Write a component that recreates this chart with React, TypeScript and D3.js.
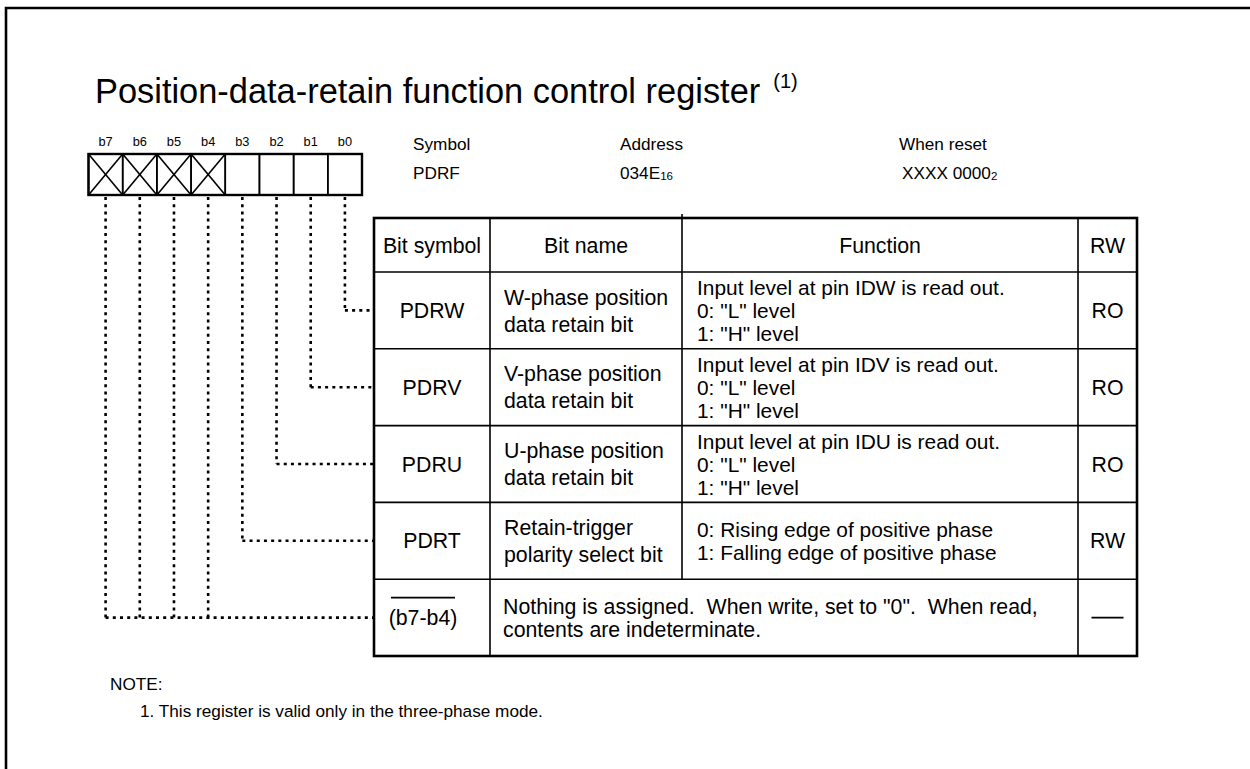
import React from 'react';
import * as d3 from 'd3';

const titleText = 'Position-data-retain function control register';
const titleNote = '(1)';
const bitLabels = ['b7', 'b6', 'b5', 'b4', 'b3', 'b2', 'b1', 'b0'];
const reservedBits = ['b7', 'b6', 'b5', 'b4'];
const infoLabels = ['Symbol', 'Address', 'When reset'];
const infoValues = [
  { main: 'PDRF', sub: '' },
  { main: '034E', sub: '16' },
  { main: 'XXXX 0000', sub: '2' },
];
const headers = ['Bit symbol', 'Bit name', 'Function', 'RW'];
const rowSymbols = ['PDRW', 'PDRV', 'PDRU', 'PDRT', '(b7-b4)'];
const rowBits = [['b0'], ['b1'], ['b2'], ['b3'], ['b7', 'b6', 'b5', 'b4']];
const rowNames = [
  ['W-phase position', 'data retain bit'],
  ['V-phase position', 'data retain bit'],
  ['U-phase position', 'data retain bit'],
  ['Retain-trigger', 'polarity select bit'],
  [],
];
const rowFunctions = [
  ['Input level at pin IDW is read out.', '0: "L" level', '1: "H" level'],
  ['Input level at pin IDV is read out.', '0: "L" level', '1: "H" level'],
  ['Input level at pin IDU is read out.', '0: "L" level', '1: "H" level'],
  ['0: Rising edge of positive phase', '1: Falling edge of positive phase'],
  [],
];
const reservedText = ['Nothing is assigned.  When write, set to "0".  When read,', 'contents are indeterminate.'];
const rowRW = ['RO', 'RO', 'RO', 'RW', ''];
const noteLines = ['NOTE:', '1. This register is valid only in the three-phase mode.'];

const FONT = '"Liberation Sans", Arial, Helvetica, sans-serif';

export default function App() {
  const W = 1250, H = 769;
  const bitX = d3.scaleBand<string>().domain(bitLabels).range([88.5, 362]);
  const boxTop = 154, boxBot = 195;
  const colEdges = [374, 490, 682, 1078, 1137];
  const tableTop = 218, headerBot = 272, tableBot = 656;
  const rowY = d3.scaleBand<string>().domain(rowSymbols).range([headerBot, tableBot]);
  const cx = (i: number) => (colEdges[i] + colEdges[i + 1]) / 2;
  const dot = { stroke: '#000', strokeWidth: 2.6, strokeDasharray: '3 4.2', fill: 'none' };
  const thin = { stroke: '#000', strokeWidth: 1.6 };
  const fs = 21.3;
  const ffs = 20.9;
  const base = 7.6;

  return (
    <svg width={W} height={H} style={{ position: 'absolute', left: 0, top: 0, background: '#fff' }} fontFamily={FONT}>
      <rect x={0} y={0} width={W} height={H} fill="#fff" />
      <path d={`M6,${H} V8 H${W}`} fill="none" stroke="#000" strokeWidth={2.6} />
      <text x={95} y={103} fontSize={34.4}>
        {titleText}
        <tspan fontSize={20} dx={13} dy={-15}>{titleNote}</tspan>
      </text>

      {bitLabels.map((b) => (
        <text key={'l' + b} x={bitX(b)! + bitX.bandwidth() / 2} y={146} fontSize={12.8} textAnchor="middle">{b}</text>
      ))}
      {bitLabels.map((b) => (
        <rect key={'r' + b} x={bitX(b)!} y={boxTop} width={bitX.bandwidth()} height={boxBot - boxTop} fill="none" {...thin} />
      ))}
      {reservedBits.map((b) => (
        <g key={'x' + b}>
          <line x1={bitX(b)!} y1={boxTop} x2={bitX(b)! + bitX.bandwidth()} y2={boxBot} {...thin} />
          <line x1={bitX(b)! + bitX.bandwidth()} y1={boxTop} x2={bitX(b)!} y2={boxBot} {...thin} />
        </g>
      ))}
      <rect x={88.5} y={boxTop} width={362 - 88.5} height={boxBot - boxTop} fill="none" stroke="#000" strokeWidth={2.4} />

      {infoLabels.map((t, i) => (
        <text key={'il' + i} x={[413, 620, 899][i]} y={150} fontSize={17.2}>{t}</text>
      ))}
      {infoValues.map((v, i) => (
        <text key={'iv' + i} x={[413, 620, 902][i]} y={179} fontSize={17.2}>
          {v.main}
          {v.sub && <tspan fontSize={11.5} dy={1}>{v.sub}</tspan>}
        </text>
      ))}

      {rowSymbols.map((s, i) => {
        const yc = rowY(s)! + rowY.bandwidth() / 2;
        const bits = rowBits[i];
        const xs = bits.map((b) => bitX(b)! + bitX.bandwidth() / 2);
        const xmin = d3.min(xs)!;
        return (
          <g key={'c' + s}>
            {xs.map((x, j) => (
              <line key={j} x1={x} y1={boxBot + 2} x2={x} y2={yc} {...dot} />
            ))}
            <line x1={xmin} y1={yc} x2={colEdges[0]} y2={yc} {...dot} />
          </g>
        );
      })}

      <rect x={colEdges[0]} y={tableTop} width={colEdges[4] - colEdges[0]} height={tableBot - tableTop} fill="#fff" stroke="#000" strokeWidth={2.6} />
      <line x1={colEdges[0]} y1={headerBot} x2={colEdges[4]} y2={headerBot} {...thin} />
      {rowSymbols.slice(1).map((s) => (
        <line key={'h' + s} x1={colEdges[0]} y1={rowY(s)!} x2={colEdges[4]} y2={rowY(s)!} {...thin} />
      ))}
      <line x1={colEdges[1]} y1={tableTop} x2={colEdges[1]} y2={tableBot} {...thin} />
      <line x1={colEdges[2]} y1={tableTop - 4} x2={colEdges[2]} y2={rowY('(b7-b4)')!} {...thin} />
      <line x1={colEdges[3]} y1={tableTop} x2={colEdges[3]} y2={tableBot} {...thin} />

      {headers.map((h, i) => (
        <text key={'hd' + i} x={cx(i)} y={(tableTop + headerBot) / 2 + base} fontSize={fs} textAnchor="middle">{h}</text>
      ))}

      {rowSymbols.map((s, i) => {
        const y0 = rowY(s)!;
        const yc = y0 + rowY.bandwidth() / 2;
        const last = i === rowSymbols.length - 1;
        const names = rowNames[i];
        const funcs = rowFunctions[i];
        const nameGap = 27;
        const funcGap = 23;
        const symX = last ? cx(0) - 9 : cx(0);
        return (
          <g key={'row' + s}>
            <text x={symX} y={yc + base} fontSize={fs} textAnchor="middle">{s}</text>
            {last && <line x1={symX - 32} y1={yc - 20} x2={symX + 32} y2={yc - 20} stroke="#000" strokeWidth={1.6} />}
            {names.map((t, j) => (
              <text key={'n' + j} x={504} y={yc + base + (j - (names.length - 1) / 2) * nameGap} fontSize={fs}>{t}</text>
            ))}
            {funcs.map((t, j) => (
              <text key={'f' + j} x={697} y={yc + base + (j - (funcs.length - 1) / 2) * funcGap} fontSize={ffs} style={{ whiteSpace: 'pre' }}>{t}</text>
            ))}
            {last && reservedText.map((t, j) => (
              <text key={'r' + j} x={503} y={yc + base + (j - 0.5) * 23.2} fontSize={fs} style={{ whiteSpace: 'pre' }}>{t}</text>
            ))}
            {rowRW[i] ? (
              <text x={cx(3)} y={yc + base} fontSize={fs} textAnchor="middle">{rowRW[i]}</text>
            ) : (
              <line x1={cx(3) - 16} y1={yc} x2={cx(3) + 16} y2={yc} stroke="#000" strokeWidth={1.6} />
            )}
          </g>
        );
      })}

      <text x={110} y={690} fontSize={17.2}>{noteLines[0]}</text>
      <text x={140} y={717} fontSize={17.2}>{noteLines[1]}</text>
    </svg>
  );
}
